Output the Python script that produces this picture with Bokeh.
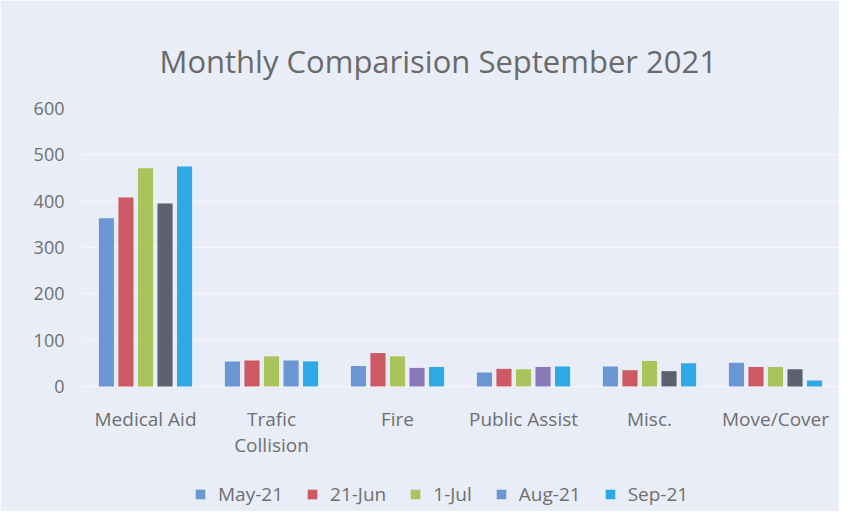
from bokeh.plotting import figure
from bokeh.models import FactorRange, Legend, LegendItem, ColumnDataSource, FixedTicker
from bokeh.core.properties import value
from bokeh.transform import dodge
from bokeh.embed import file_html
from bokeh.resources import INLINE

categories = ["Medical Aid", "Trafic\nCollision", "Fire", "Public Assist", "Misc.", "Move/Cover"]
series_names = ["May-21", "21-Jun", "1-Jul", "Aug-21", "Sep-21"]
may21 = [363, 54, 44, 30, 43, 51]
jun21 = [408, 56, 72, 38, 35, 42]
jul1 = [471, 65, 65, 37, 55, 42]
aug21 = [395, 56, 40, 42, 33, 37]
sep21 = [475, 54, 42, 43, 50, 13]
y_ticks = [0, 100, 200, 300, 400, 500, 600]

colors = ["#6a96d4", "#cd5a63", "#a9c45a", "#6a96d4", "#2fa8e6"]
aug_colors = ["#5c6170", "#6a96d4", "#8a78b8", "#8a78b8", "#5c6170", "#5c6170"]

src = ColumnDataSource(dict(cat=categories, may=may21, jun=jun21, jul=jul1,
                            aug=aug21, sep=sep21, augc=aug_colors,
                            zero=[0] * len(categories)))

FONT = "Open Sans"
TXT = "#6f6f6f"
BG = "#e9edf8"

# frame extends below the value axis to hold the category labels and legend
p = figure(x_range=FactorRange(*categories), y_range=(-270, 600),
           width=839, height=511, output_backend="svg", toolbar_location=None,
           min_border_left=82, min_border_right=1, min_border_top=108,
           min_border_bottom=0, x_axis_location=None)

p.title.text = "Monthly Comparision September 2021"
p.title.align = "left"
p.title.text_font = FONT
p.title.text_font_size = "31px"
p.title.text_font_style = "normal"
p.title.text_color = "#6a6a6a"
p.title.offset = 77
p.title.standoff = 53

p.background_fill_color = BG
p.border_fill_color = BG
p.outline_line_color = None

fields = ["may", "jun", "jul", "aug", "sep"]
offsets = [-0.31, -0.155, 0.0, 0.155, 0.31]
renderers = []
for f, off, c in zip(fields, offsets, colors):
    color = "augc" if f == "aug" else c
    r = p.vbar(x=dodge("cat", off, range=p.x_range), top=f, width=0.12,
               source=src, fill_color=color, line_color=None)
    renderers.append(r)

# category labels under the bars
p.text(x="cat", y="zero", text="cat", source=src, y_offset=20,
       text_align="center", text_baseline="top", text_font=value(FONT),
       text_font_size="19px", text_color=TXT, text_line_height=1.0)

p.xgrid.grid_line_color = None
p.ygrid.grid_line_color = "#f6f7fb"
p.ygrid.grid_line_width = 1
p.yaxis.ticker = FixedTicker(ticks=y_ticks)
ax = p.yaxis[0]
ax.axis_line_color = None
ax.major_tick_line_color = None
ax.minor_tick_line_color = None
ax.major_label_text_font = FONT
ax.major_label_text_font_size = "18px"
ax.major_label_text_color = TXT
ax.major_label_standoff = 12

items = []
for name, r, in zip(series_names, renderers):
    idx = 1 if name == "Aug-21" else 0
    items.append(LegendItem(label=name, renderers=[r], index=idx))
legend = Legend(items=items, orientation="horizontal", location=(112, 4),
                label_text_font=FONT, label_text_font_size="19px",
                label_text_color=TXT, glyph_width=12, glyph_height=12,
                spacing=23, label_standoff=12, background_fill_alpha=0,
                border_line_color=None, margin=0, padding=4)
p.add_layout(legend)

open("out.html", "w").write(file_html(p, INLINE))
